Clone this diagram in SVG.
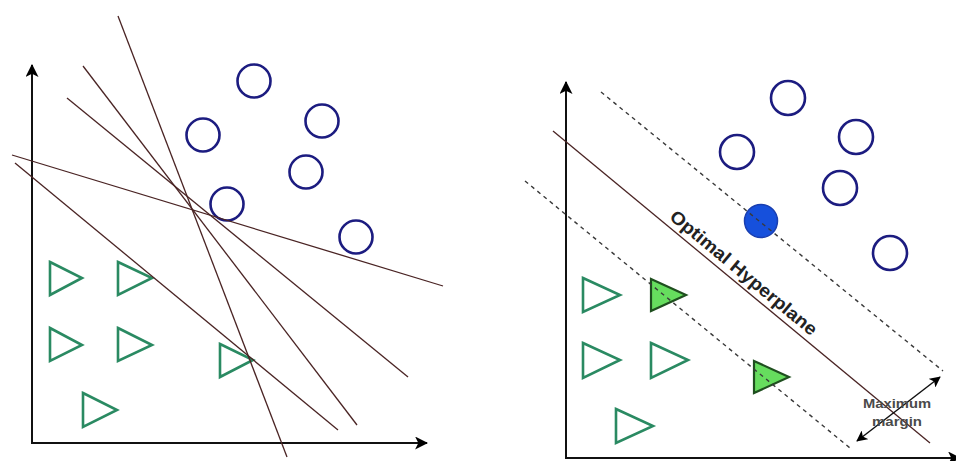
<svg xmlns="http://www.w3.org/2000/svg" width="956" height="461" viewBox="0 0 956 461">
<style>
.circ{fill:none;stroke:#1c1c80;stroke-width:2.6}
.solid{fill:#1650dc;stroke:#1a3fb0;stroke-width:1.5}
.tri{fill:none;stroke:#2a8a62;stroke-width:2.6;stroke-linejoin:miter}
.trif{fill:#66dd5e;stroke:#1f4f1f;stroke-width:2.2}
.sep{stroke:#4a2424;stroke-width:1.3;fill:none}
.dash{stroke:#3a3a3a;stroke-width:1.4;stroke-dasharray:4 4;fill:none}
.axis{stroke:#111;stroke-width:2;fill:none}
.lbl{font-family:"Liberation Sans",Arial,sans-serif;fill:#222}
.mm{font-family:"Liberation Sans",Arial,sans-serif;fill:#4a4a4a;font-weight:bold;font-size:13px;text-anchor:middle}
</style>
<defs>
<marker id="arr" viewBox="0 0 12 12" refX="11" refY="6" markerWidth="13" markerHeight="13" orient="auto-start-reverse" markerUnits="userSpaceOnUse">
<path d="M0,0 L12,6 L0,12 L3,6 z" fill="#000"/>
</marker>
<marker id="arr2" viewBox="0 0 12 12" refX="11" refY="6" markerWidth="11" markerHeight="11" orient="auto-start-reverse" markerUnits="userSpaceOnUse">
<path d="M0,0 L12,6 L0,12 L3,6 z" fill="#000"/>
</marker>
</defs>
<rect width="956" height="461" fill="#fff"/>

<!-- LEFT PANEL -->
<g id="left-axes">
<line class="axis" x1="32" y1="443" x2="32" y2="65" marker-end="url(#arr)"/>
<line class="axis" x1="31" y1="443" x2="427" y2="443" marker-end="url(#arr)"/>
</g>
<g id="left-circles">
<circle id="lc1" class="circ" cx="254" cy="81" r="16.5"/>
<circle id="lc2" class="circ" cx="203" cy="135" r="16.5"/>
<circle id="lc3" class="circ" cx="322" cy="121" r="16.5"/>
<circle id="lc4" class="circ" cx="306" cy="172" r="16.5"/>
<circle id="lc5" class="circ" cx="227" cy="204" r="16.5"/>
<circle id="lc6" class="circ" cx="356" cy="237" r="16.5"/>
</g>
<g id="left-triangles">
<polygon id="lt1" class="tri" points="50,262 82,278 50,295"/>
<polygon id="lt2" class="tri" points="118,262 152,278 118,295"/>
<polygon id="lt3" class="tri" points="50,328 82,345 50,361"/>
<polygon id="lt4" class="tri" points="118,328 152,345 118,361"/>
<polygon id="lt5" class="tri" points="220,344 253,360 220,377"/>
<polygon id="lt6" class="tri" points="83,393 117,410 83,427"/>
</g>
<g id="left-connectors">
<line class="sep" x1="118" y1="16" x2="287" y2="457"/>
<line class="sep" x1="83" y1="66" x2="357" y2="425"/>
<line class="sep" x1="67" y1="98" x2="408" y2="377"/>
<line class="sep" x1="12" y1="155" x2="443" y2="286"/>
<line class="sep" x1="15" y1="163" x2="338" y2="430"/>
</g>

<!-- RIGHT PANEL -->
<g id="right-axes">
<line class="axis" x1="566" y1="458" x2="566" y2="82" marker-end="url(#arr)"/>
<line class="axis" x1="565" y1="458" x2="960" y2="458" marker-end="url(#arr)"/>
</g>
<g id="right-circles">
<circle id="rc1" class="circ" cx="788" cy="98" r="17"/>
<circle id="rc2" class="circ" cx="737" cy="152" r="17"/>
<circle id="rc3" class="circ" cx="856" cy="137" r="17"/>
<circle id="rc4" class="circ" cx="840" cy="188" r="17"/>
<circle id="rc5" class="circ" cx="890" cy="253" r="17"/>
<circle id="rc6" class="solid" cx="761" cy="221" r="16.5"/>
</g>
<g id="right-triangles">
<polygon id="rt1" class="tri" points="583,278 620,295 583,312"/>
<polygon id="rt2" class="trif" points="651,279 686,295 651,311"/>
<polygon id="rt3" class="tri" points="583,343 620,360 583,378"/>
<polygon id="rt4" class="tri" points="651,343 688,360 651,378"/>
<polygon id="rt5" class="trif" points="754,361 789,377 754,393"/>
<polygon id="rt6" class="tri" points="616,409 653,426 616,443"/>
</g>
<g id="right-connectors">
<line class="sep" x1="553" y1="131" x2="930" y2="443"/>
<line class="dash" x1="601" y1="92" x2="943" y2="371"/>
<line class="dash" x1="525" y1="181" x2="850" y2="448"/>
<line stroke="#111" stroke-width="1.5" x1="857" y1="441" x2="940" y2="377" marker-start="url(#arr2)" marker-end="url(#arr2)"/>
</g>
<g id="labels">
<text class="lbl" transform="translate(668.5,218.5) rotate(39.6)" font-size="18" font-weight="bold" textLength="185" lengthAdjust="spacingAndGlyphs">Optimal Hyperplane</text>
<text class="mm" x="897" y="408" textLength="68" lengthAdjust="spacingAndGlyphs">Maximum</text>
<text class="mm" x="897" y="426" textLength="50" lengthAdjust="spacingAndGlyphs">margin</text>
</g>
</svg>
